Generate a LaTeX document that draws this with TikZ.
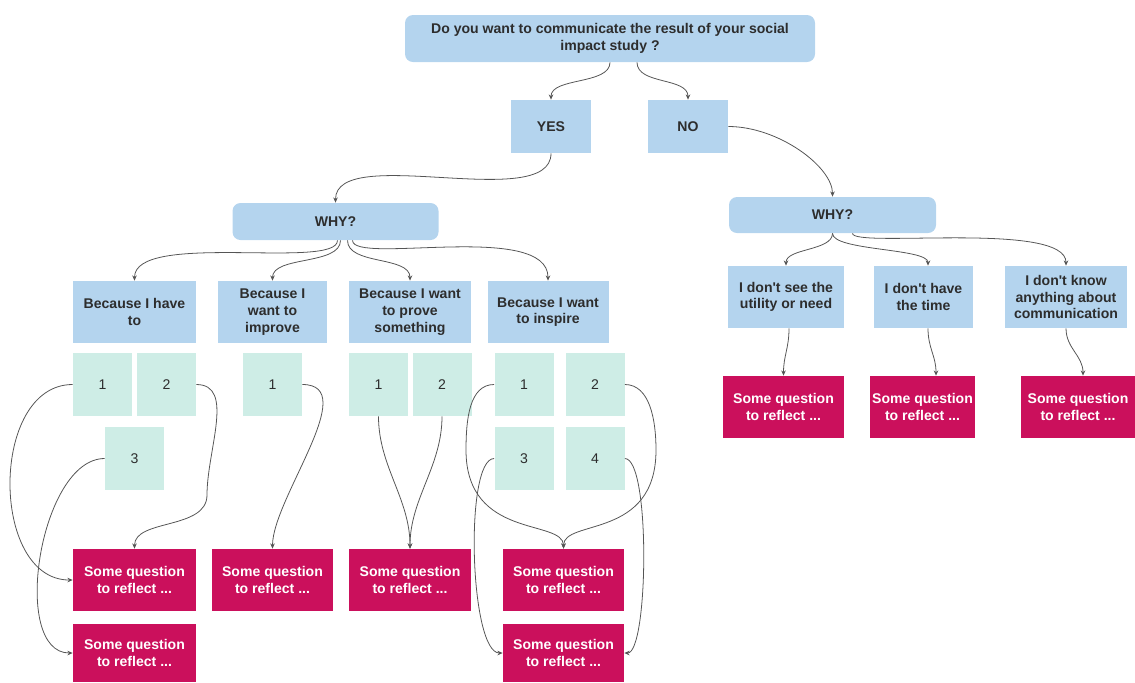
\documentclass[tikz,border=0pt]{standalone}
\usepackage{fontspec}
\setmainfont{Liberation Sans}
\usepackage{tikz}
\usetikzlibrary{arrows.meta}
\definecolor{askblue}{RGB}{180, 212, 238}
\definecolor{optgreen}{RGB}{206, 237, 230}
\definecolor{reflectred}{RGB}{203, 16, 92}
\definecolor{txtgray}{RGB}{45, 45, 45}
\definecolor{linkgray}{RGB}{85, 85, 85}

\begin{document}
\begin{tikzpicture}[>={Stealth[length=3pt,width=2.6pt]},
    font=\fontsize{8}{9.5}\selectfont\bfseries,
    ask/.style={fill=askblue, text=txtgray, align=center, inner sep=1pt, minimum height=1.24cm},
    askround/.style={ask, rounded corners=0.16cm},
    num/.style={fill=optgreen, text=txtgray, font=\fontsize{8}{9.5}\selectfont,
                minimum width=1.18cm, minimum height=1.26cm},
    reflect/.style={fill=reflectred, text=white, align=center, inner sep=1pt, minimum height=1.24cm},
    link/.style={->, draw=linkgray, line width=0.45pt}]
  \useasboundingbox (0,0) rectangle (22.7,-13.64);

  \node[askround, minimum width=8.2cm, minimum height=0.94cm] (study) at (12.2,-0.77)
       {Do you want to communicate the result of your social\\impact study ?};
  \node[ask, minimum width=1.6cm, minimum height=1.06cm] (yes) at (11.02,-2.53) {YES};
  \node[ask, minimum width=1.6cm, minimum height=1.06cm] (no)  at (13.76,-2.53) {NO};
  \node[askround, minimum width=4.12cm, minimum height=0.74cm] (whyyes) at (6.71,-4.43) {WHY?};
  \node[askround, minimum width=4.14cm, minimum height=0.72cm] (whyno)  at (16.65,-4.30) {WHY?};

  % reasons for YES
  \node[ask, minimum width=2.46cm] (have)    at (2.69,-6.24)  {Because I have\\to};
  \node[ask, minimum width=2.18cm] (improve) at (5.45,-6.24)  {Because I\\want to\\improve};
  \node[ask, minimum width=2.44cm] (prove)   at (8.2,-6.24)   {Because I want\\to prove\\something};
  \node[ask, minimum width=2.42cm] (inspire) at (10.96,-6.24) {Because I want\\to inspire};

  % reasons for NO
  \node[ask, minimum width=2.32cm] (utility) at (15.72,-5.94) {I don\textquotesingle t see the\\utility or need};
  \node[ask, minimum width=1.98cm] (time)    at (18.47,-5.94) {I don\textquotesingle t have\\the time};
  \node[ask, minimum width=2.44cm] (know)    at (21.32,-5.94) {I don\textquotesingle t know\\anything about\\communication};

  \node[num] (have1) at (2.05,-7.69) {1};
  \node[num] (have2) at (3.33,-7.69) {2};
  \node[num] (have3) at (2.69,-9.17) {3};
  \node[num] (imp1)  at (5.45,-7.69) {1};
  \node[num] (prov1) at (7.57,-7.69) {1};
  \node[num] (prov2) at (8.84,-7.69) {2};
  \node[num] (insp1) at (10.48,-7.69) {1};
  \node[num] (insp2) at (11.9,-7.69)  {2};
  \node[num] (insp3) at (10.48,-9.17) {3};
  \node[num] (insp4) at (11.9,-9.17)  {4};

  \node[reflect, minimum width=2.46cm] (haveq)  at (2.69,-11.6) {Some question\\to reflect ...};
  \node[reflect, minimum width=2.46cm, minimum height=1.16cm] (haveqb) at (2.69,-13.06) {Some question\\to reflect ...};
  \node[reflect, minimum width=2.42cm] (impq)   at (5.45,-11.6) {Some question\\to reflect ...};
  \node[reflect, minimum width=2.44cm] (provq)  at (8.2,-11.6)  {Some question\\to reflect ...};
  \node[reflect, minimum width=2.42cm] (inspq)  at (11.27,-11.6) {Some question\\to reflect ...};
  \node[reflect, minimum width=2.42cm, minimum height=1.16cm] (inspqb) at (11.27,-13.06) {Some question\\to reflect ...};
  \node[reflect, minimum width=2.42cm] (utilq)  at (15.67,-8.14) {Some question\\to reflect ...};
  \node[reflect, minimum width=1.94cm] (timeq)  at (18.45,-8.14) {Some question\\to reflect ...};
  \node[reflect, minimum width=2.28cm] (knowq)  at (21.56,-8.14) {Some question\\to reflect ...};

  \coordinate (bendh2) at (4.14,-9.9);
  \coordinate (bendi1) at (9.32,-9.0);
  \coordinate (bendi2) at (13.12,-9.0);

  \draw[link] (study.south) .. controls +(0,-0.45) and +(0,0.45) .. (yes.north);
  \draw[link] ([xshift=0.54cm]study.south) .. controls +(0,-0.45) and +(0,0.45) .. (no.north);
  \draw[link] (yes.south) .. controls +(0,-1.2) and +(0,1.2) .. (whyyes.north);
  \draw[link] (no.east) .. controls +(1.0,0) and +(0,0.6) .. (whyno.north);

  \draw[link] ([xshift=0.04cm]whyyes.south) .. controls +(0,-0.6) and +(0,1.0) .. (have.north);
  \draw[link] ([xshift=0.1cm]whyyes.south)  .. controls +(0,-0.5) and +(0,0.5) .. (improve.north);
  \draw[link] ([xshift=0.24cm]whyyes.south) .. controls +(0,-0.5) and +(0,0.5) .. (prove.north);
  \draw[link] ([xshift=0.34cm]whyyes.south) .. controls +(0,-0.5) and +(0,1.2) .. (inspire.north);

  \draw[link] (whyno.south) .. controls +(0,-0.35) and +(0,0.35) .. (utility.north);
  \draw[link] (whyno.south) .. controls +(0,-0.35) and +(0,0.35) .. ([xshift=0.09cm]time.north);
  \draw[link] ([xshift=0.4cm]whyno.south) .. controls +(0,-0.3) and +(0,0.9) .. (know.north);
  \draw[link] ([xshift=0.06cm]utility.south) .. controls +(0,-0.4) and +(0,0.4) .. (utilq.north);
  \draw[link] ([xshift=0.09cm]time.south) .. controls +(0,-0.4) and +(0,0.4) .. ([xshift=0.27cm]timeq.north);
  \draw[link] (know.south) .. controls +(0,-0.4) and +(0,0.4) .. ([xshift=0.1cm]knowq.north);

  % options to questions
  \draw[link] (have1.west) .. controls +(-1.66,0) and +(-1.66,0) .. (haveq.west);
  \draw[link] (have3.west) .. controls +(-1.3,0) and +(-1.26,0) .. (haveqb.west);
  \draw[link] (have2.east) .. controls +(0.78,0) and +(0,0.9) .. (bendh2)
                           .. controls +(0,-0.7) and +(0,0.6) .. (haveq.north);
  \draw[link] (imp1.east) .. controls +(1.2,0) and +(0,1.0) .. (impq.north);
  \draw[link] (prov1.south) .. controls +(0,-1.0) and +(0,1.0) .. (provq.north);
  \draw[link] (prov2.south) .. controls +(0,-1.0) and +(0,1.0) .. (provq.north);
  \draw[link] (insp1.west) .. controls +(-0.5,0) and +(0,0.6) .. (bendi1)
                           .. controls +(0,-1.8) and +(0,0.6) .. (inspq.north);
  \draw[link] (insp2.east) .. controls +(0.5,0) and +(0,0.6) .. (bendi2)
                           .. controls +(0,-1.8) and +(0,0.6) .. (inspq.north);
  \draw[link] (insp3.west) .. controls +(-0.6,0) and +(-0.66,0) .. (inspqb.west);
  \draw[link] (insp4.east) .. controls +(0.52,0) and +(0.48,0) .. (inspqb.east);
\end{tikzpicture}
\end{document}
